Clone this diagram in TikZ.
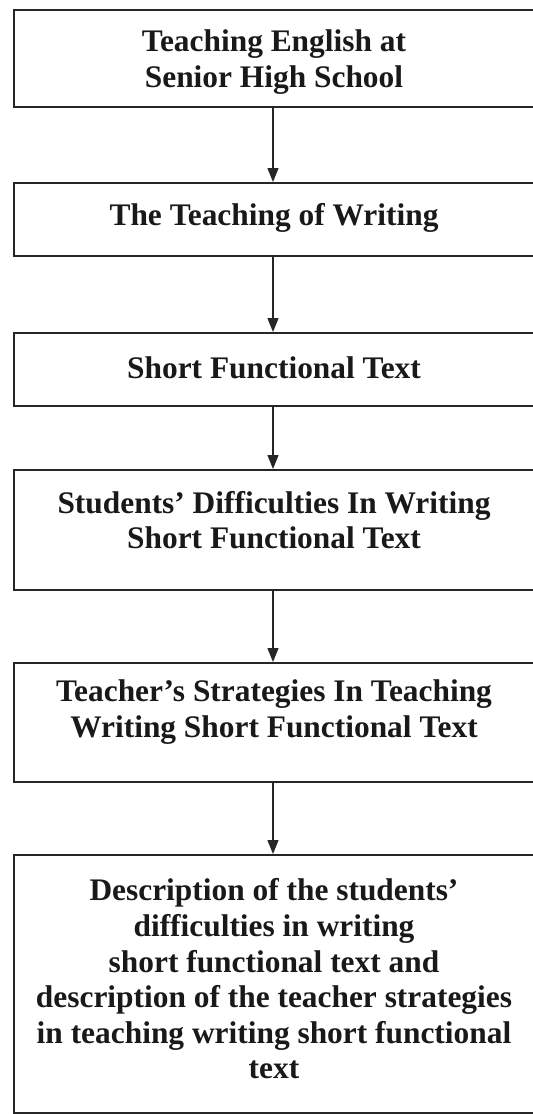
\documentclass[tikz,border=0pt]{standalone}
\usepackage{fontspec}
\setmainfont{Liberation Serif}
\usetikzlibrary{arrows.meta}
\begin{document}
\begin{tikzpicture}[x=0.5pt,y=-0.5pt,
  box/.style={draw=black!85,line width=1pt,rectangle,inner sep=0pt,minimum width=264pt},
  txt/.style={align=center,inner sep=0pt,font=\bfseries\fontsize{15.7}{17.8}\selectfont,text=black!90},
  link/.style={draw=black!85,line width=0.7pt,-{Triangle[width=5.5pt,length=7pt]}}]
\useasboundingbox (0,0) rectangle (533,1114);
\clip (0,0) rectangle (533,1114);
\node[box,minimum height=48.5pt] (b1) at (278,58.5) {};
\node[box,minimum height=36.5pt] (b2) at (278,219.5) {};
\node[box,minimum height=36.5pt] (b3) at (278,369.5) {};
\node[box,minimum height=60pt] (b4) at (278,530) {};
\node[box,minimum height=59.5pt] (b5) at (278,722.5) {};
\node[box,minimum height=129pt] (b6) at (278,984) {};
\node[txt] (t1) at (274,62) {Teaching English at\\Senior High School};
\node[txt] (t2) at (274,218) {The Teaching of Writing};
\node[txt] (t3) at (274,368) {Short Functional Text};
\node[txt] (t4) at (274,520) {Students’ Difficulties In Writing\\Short Functional Text};
\node[txt] (t5) at (274,712) {Teacher’s Strategies In Teaching\\Writing Short Functional Text};
\node[txt] (t6) at (274,979) {Description of the students’\\difficulties in writing\\short functional text and\\description of the teacher strategies\\in teaching writing short functional\\text};
\draw[link] ([xshift=-2.5pt]b1.south) -- ([xshift=-2.5pt]b2.north);
\draw[link] ([xshift=-2.5pt]b2.south) -- ([xshift=-2.5pt]b3.north);
\draw[link] ([xshift=-2.5pt]b3.south) -- ([xshift=-2.5pt]b4.north);
\draw[link] ([xshift=-2.5pt]b4.south) -- ([xshift=-2.5pt]b5.north);
\draw[link] ([xshift=-2.5pt]b5.south) -- ([xshift=-2.5pt]b6.north);
\end{tikzpicture}
\end{document}
